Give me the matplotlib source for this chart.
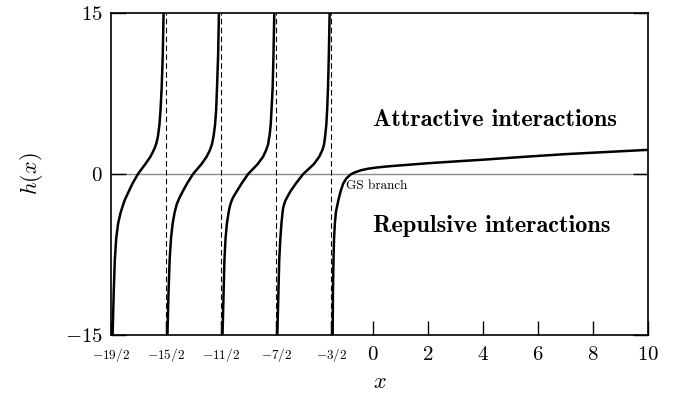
import numpy as np
import matplotlib
matplotlib.use('Agg')
import matplotlib.pyplot as plt

plt.rcParams['mathtext.fontset'] = 'cm'
plt.rcParams['font.family'] = ['cmr10', 'DejaVu Serif']
plt.rcParams['axes.unicode_minus'] = False

# branches of h(x) (one x list per branch, shared y levels)
ygrid = [-15, -11, -8, -6, -4.6, -3.6, -3.2, -2.8, -2.5, -2.2, -1.6, -0.9, 0,
         0.9, 1.6, 2.2, 2.5, 2.8, 3.2, 3.6, 4.6, 6, 8, 11, 15]
branch_a = [-9.44, -9.40, -9.36, -9.31, -9.24, -9.15, -9.10, -9.05, -9.01, -8.96, -8.85, -8.72, -8.52,
            -8.26, -8.07, -7.95, -7.90, -7.86, -7.82, -7.79, -7.74, -7.70, -7.66, -7.62, -7.59]
branch_b = [-7.45, -7.41, -7.37, -7.32, -7.26, -7.19, -7.15, -7.11, -7.06, -7.01, -6.89, -6.74, -6.52,
            -6.22, -6.03, -5.91, -5.87, -5.83, -5.80, -5.77, -5.72, -5.68, -5.65, -5.61, -5.58]
branch_c = [-5.45, -5.41, -5.38, -5.34, -5.29, -5.23, -5.20, -5.16, -5.12, -5.07, -4.93, -4.76, -4.52,
            -4.18, -3.98, -3.87, -3.83, -3.79, -3.77, -3.74, -3.70, -3.67, -3.63, -3.60, -3.57]
branch_d = [-3.46, -3.42, -3.39, -3.35, -3.31, -3.27, -3.25, -3.21, -3.17, -3.11, -2.98, -2.79, -2.52,
            -2.14, -1.94, -1.83, -1.79, -1.76, -1.74, -1.72, -1.68, -1.65, -1.62, -1.59, -1.56]

# ground state branch
gs_x = [-1.45, -1.44, -1.42, -1.40, -1.37, -1.33, -1.24, -1.16, -1.07, -0.95, -0.80, -0.65,
        -0.42, -0.15, 0.2, 0.6, 1.0, 2.0, 3.0, 4.0, 5.5, 7.0, 8.5, 10.0]
gs_y = [-15, -11, -8, -6, -4.6, -3.5, -2.4, -1.6, -0.9, -0.4, -0.05, 0.15,
        0.35, 0.5, 0.62, 0.72, 0.80, 1.0, 1.17, 1.33, 1.6, 1.85, 2.05, 2.25]

poles = [-7.5, -5.5, -3.5, -1.5]
xticks = [-9.5, -7.5, -5.5, -3.5, -1.5, 0, 2, 4, 6, 8, 10]
xticklabels = ['$-19/2$', '$-15/2$', '$-11/2$', '$-7/2$', '$-3/2$', '$0$', '$2$', '$4$', '$6$', '$8$', '$10$']
yticks = [-15, 0, 15]
yticklabels = ['$-15$', '$0$', '$15$']

fig = plt.figure(figsize=(6.85, 4.01), dpi=100)
ax = fig.add_axes([0.162, 0.1646, 0.784, 0.803])

ax.axhline(0, color='#8c8c8c', lw=1.0, zorder=1)
for p in poles:
    ax.axvline(p, color='k', lw=0.8, ls=(0, (5, 3)), zorder=2)

for bx in [branch_a, branch_b, branch_c, branch_d]:
    ax.plot(bx, ygrid, color='k', lw=1.8, zorder=3)
ax.plot(gs_x, gs_y, color='k', lw=1.8, zorder=3)

ax.set_xlim(-9.5, 10)
ax.set_ylim(-15, 15)

ax.set_xticks(xticks)
ax.set_xticklabels(xticklabels)
for lab, v in zip(ax.get_xticklabels(), xticks):
    lab.set_fontsize(9.5 if v < 0 else 15)
ax.set_yticks(yticks)
ax.set_yticklabels(yticklabels, fontsize=15)
ax.tick_params(axis='x', direction='in', length=10, width=1, pad=8)
ax.tick_params(axis='y', direction='in', length=11, width=1, right=True, pad=6)

for s in ax.spines.values():
    s.set_linewidth(1.2)

ax.set_xlabel('$x$', fontsize=16, labelpad=6)
ax.set_ylabel('$h(x)$', fontsize=16, labelpad=14)

ax.text(0.0, 5.0, 'Attractive interactions', family='cmb10', fontsize=17.5, va='center', ha='left')
ax.text(0.0, -4.85, 'Repulsive interactions', family='cmb10', fontsize=17.5, va='center', ha='left')
ax.text(-0.97, -1.15, 'GS branch', fontsize=9.5, va='center', ha='left')

fig.savefig('out.png', dpi=100)
